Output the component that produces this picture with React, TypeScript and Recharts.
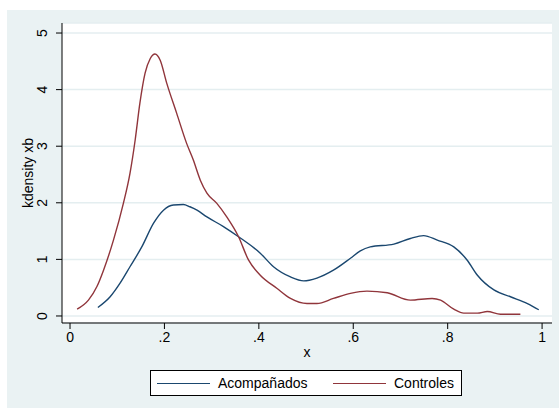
import { LineChart, Line, XAxis, YAxis, CartesianGrid, Legend, Label } from 'recharts';

// curva de densidad - Acompañados
const acompX = [0.059, 0.085, 0.106, 0.127, 0.152, 0.177, 0.198, 0.219, 0.240, 0.254, 0.269, 0.290, 0.325, 0.357, 0.403, 0.431, 0.467, 0.495, 0.523, 0.558, 0.594, 0.615, 0.636, 0.686, 0.721, 0.749, 0.778, 0.813, 0.841, 0.863, 0.898, 0.933, 0.969, 0.993];
const acompY = [0.15, 0.34, 0.58, 0.87, 1.22, 1.64, 1.87, 1.96, 1.97, 1.93, 1.87, 1.75, 1.58, 1.40, 1.11, 0.87, 0.69, 0.62, 0.67, 0.81, 1.02, 1.15, 1.22, 1.27, 1.37, 1.42, 1.34, 1.22, 0.99, 0.72, 0.46, 0.34, 0.22, 0.11];

// curva de densidad - Controles
const contX = [0.015, 0.039, 0.057, 0.071, 0.092, 0.113, 0.127, 0.138, 0.148, 0.159, 0.170, 0.180, 0.191, 0.205, 0.226, 0.247, 0.261, 0.276, 0.290, 0.311, 0.332, 0.357, 0.378, 0.403, 0.438, 0.467, 0.502, 0.523, 0.558, 0.594, 0.629, 0.672, 0.721, 0.767, 0.785, 0.813, 0.834, 0.863, 0.884, 0.912, 0.954];
const contY = [0.12, 0.28, 0.52, 0.81, 1.34, 1.99, 2.52, 3.11, 3.76, 4.29, 4.55, 4.63, 4.52, 4.11, 3.58, 3.05, 2.76, 2.40, 2.17, 1.99, 1.75, 1.40, 0.99, 0.72, 0.49, 0.31, 0.22, 0.22, 0.31, 0.40, 0.44, 0.41, 0.28, 0.31, 0.28, 0.12, 0.05, 0.05, 0.08, 0.03, 0.03];

const xTicks = [0, 0.2, 0.4, 0.6, 0.8, 1];
const yTicks = [0, 1, 2, 3, 4, 5];

const seriesNames = ['Acompañados', 'Controles'];
const BLUE = '#1a476f';
const RED = '#90353b';
const FONT = '"Liberation Sans", Arial, sans-serif';

const acompData = acompX.map((x, i) => ({ x, y: acompY[i] }));
const contData = contX.map((x, i) => ({ x, y: contY[i] }));

const fmtX = (v: number) => (v === 0 ? '0' : v === 1 ? '1' : String(v).replace('0.', '.'));

function YTick(props: any) {
  const { x, y, payload } = props;
  const bx = x - 7;
  return (
    <text x={bx} y={y} transform={`rotate(-90, ${bx}, ${y})`} textAnchor="middle" fontSize={14} fontFamily={FONT} fill="#000">
      {payload.value}
    </text>
  );
}

function renderLegend() {
  const item = (color: string, name: string, left: number) => (
    <div style={{ position: 'absolute', left, top: 0, height: 24, display: 'flex', alignItems: 'center' }}>
      <div style={{ width: 53, height: 0, borderTop: `1.4px solid ${color}` }} />
      <span style={{ marginLeft: 8, fontSize: 14, fontFamily: FONT, color: '#000' }}>{name}</span>
    </div>
  );
  return (
    <div style={{ position: 'relative', width: 312, height: 26, boxSizing: 'border-box', border: '1px solid #000', background: '#fff' }}>
      {item(BLUE, seriesNames[0], 6)}
      {item(RED, seriesNames[1], 182)}
    </div>
  );
}

export default function App() {
  return (
    <div style={{ position: 'absolute', left: 0, top: 0, width: 559, height: 408, background: '#fff' }}>
      <div style={{ position: 'absolute', left: 7, top: 10, width: 552, height: 398, background: '#eaf2f3' }}>
        <LineChart width={552} height={398} margin={{ top: 13, right: 7, bottom: 55, left: 0 }}>
          <CartesianGrid vertical={false} stroke="#e4eef0" strokeWidth={1.5} fill="#fff" />
          <XAxis
            type="number"
            dataKey="x"
            domain={[-0.017, 1.021]}
            ticks={xTicks}
            tickFormatter={fmtX}
            allowDataOverflow
            height={30}
            stroke="#000"
            tickSize={6}
            tickMargin={3}
            tick={{ fill: '#000', fontSize: 14, fontFamily: FONT }}
          >
            <Label
              content={(p: any) => (
                <text x={p.viewBox.x + p.viewBox.width / 2} y={p.viewBox.y + 34} textAnchor="middle" fontSize={14} fontFamily={FONT} fill="#000">
                  x
                </text>
              )}
            />
          </XAxis>
          <YAxis
            type="number"
            dataKey="y"
            domain={[-0.124, 5.177]}
            ticks={yTicks}
            allowDataOverflow
            width={55}
            stroke="#000"
            tickSize={6}
            tickMargin={2}
            tick={<YTick />}
          >
            <Label
              content={(p: any) => {
                const cx = 26;
                const cy = p.viewBox.y + p.viewBox.height / 2;
                return (
                  <text x={cx} y={cy} transform={`rotate(-90, ${cx}, ${cy})`} textAnchor="middle" fontSize={14} fontFamily={FONT} fill="#000">
                    kdensity xb
                  </text>
                );
              }}
            />
          </YAxis>
          <Legend
            layout="horizontal"
            verticalAlign="middle"
            align="center"
            content={renderLegend}
            wrapperStyle={{ left: 143, top: 360, width: 312, height: 26 }}
          />
          <Line data={acompData} dataKey="y" name={seriesNames[0]} type="monotone" stroke={BLUE} strokeWidth={1.4} dot={false} isAnimationActive={false} />
          <Line data={contData} dataKey="y" name={seriesNames[1]} type="monotone" stroke={RED} strokeWidth={1.4} dot={false} isAnimationActive={false} />
        </LineChart>
      </div>
    </div>
  );
}
